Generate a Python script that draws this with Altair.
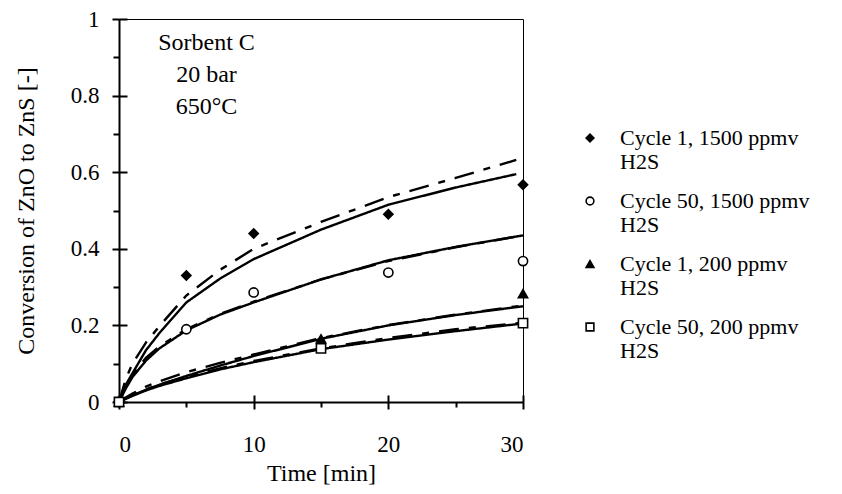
import altair as alt
import pandas as pd

# ---------------- data ----------------
series_labels = [
    "Cycle 1, 1500 ppmv|H2S",
    "Cycle 50, 1500 ppmv|H2S",
    "Cycle 1, 200 ppmv|H2S",
    "Cycle 50, 200 ppmv|H2S",
]
series_shapes = ["diamond", "circle", "triangle-up", "square"]
series_fills = ["black", "white", "black", "white"]

# measured points
s1_t = [0, 5, 10, 20, 30]
s1_x = [0.0, 0.33, 0.44, 0.49, 0.567]
s2_t = [0, 5, 10, 20, 30]
s2_x = [0.0, 0.19, 0.286, 0.338, 0.368]
s3_t = [0, 15, 30]
s3_x = [0.0, 0.165, 0.283]
s4_t = [0, 15, 30]
s4_x = [0.0, 0.14, 0.206]

# model curves (solid and dash-dot)
c1_t = [0, 0.5, 1, 2, 3, 5, 7.5, 10, 15, 20, 25, 29.5]
c1_solid = [0.0, 0.045, 0.075, 0.135, 0.18, 0.26, 0.322, 0.373, 0.45, 0.515, 0.56, 0.595]
c1_dash = [0.0, 0.06, 0.10, 0.155, 0.198, 0.278, 0.345, 0.40, 0.47, 0.535, 0.585, 0.632]

c_t = [0, 0.5, 1, 2, 3, 5, 7.5, 10, 15, 20, 25, 30]
c2_solid = [0.0, 0.035, 0.065, 0.108, 0.14, 0.187, 0.228, 0.26, 0.32, 0.37, 0.405, 0.435]
c2_dash = [0.0, 0.04, 0.072, 0.115, 0.145, 0.19, 0.23, 0.262, 0.32, 0.368, 0.404, 0.435]
c3_solid = [0.0, 0.009, 0.017, 0.032, 0.045, 0.068, 0.095, 0.12, 0.165, 0.20, 0.227, 0.25]
c3_dash = [0.0, 0.012, 0.022, 0.04, 0.054, 0.078, 0.102, 0.124, 0.167, 0.201, 0.228, 0.252]
c4_solid = [0.0, 0.008, 0.016, 0.03, 0.042, 0.062, 0.085, 0.104, 0.138, 0.163, 0.185, 0.205]
c4_dash = [0.0, 0.009, 0.018, 0.033, 0.046, 0.066, 0.088, 0.107, 0.14, 0.167, 0.19, 0.207]

note_lines = "Sorbent C\n20 bar\n650°C"
note_t = [6.5]
note_x = [0.969]

x_ticks = [0, 5, 10, 15, 20, 25, 30]
y_ticks = [0, 0.1, 0.2, 0.3, 0.4, 0.5, 0.6, 0.7, 0.8, 0.9, 1.0]
y_major = [0, 0.2, 0.4, 0.6, 0.8, 1.0]
x_major = [0, 10, 20, 30]

x_title = "Time [min]"
y_title = "Conversion of ZnO to ZnS [-]"

# ---------------- tables ----------------
pts = []
for lab, ts, xs in zip(series_labels, [s1_t, s2_t, s3_t, s4_t], [s1_x, s2_x, s3_x, s4_x]):
    for t, v in zip(ts, xs):
        pts.append({"t": t, "conv": v, "series": lab})
pts = pd.DataFrame(pts)

curves = []
for lab, ts, ys, style in [
    (series_labels[0], c1_t, c1_solid, "solid"),
    (series_labels[0], c1_t, c1_dash, "dash"),
    (series_labels[1], c_t, c2_solid, "solid"),
    (series_labels[1], c_t, c2_dash, "dash"),
    (series_labels[2], c_t, c3_solid, "solid"),
    (series_labels[2], c_t, c3_dash, "dash"),
    (series_labels[3], c_t, c4_solid, "solid"),
    (series_labels[3], c_t, c4_dash, "dash"),
]:
    for t, v in zip(ts, ys):
        curves.append({"t": t, "conv": v, "series": lab, "style": style})
curves = pd.DataFrame(curves)

notes = pd.DataFrame({"t": note_t, "conv": note_x, "text": [note_lines]})

FONT = "Liberation Serif"

xscale = alt.Scale(domain=[0, 30], nice=False, zero=False)
yscale = alt.Scale(domain=[0, 1], nice=False, zero=False)

main_x_axis = alt.Axis(
    values=x_ticks, title=x_title,
    labelExpr="datum.value % 10 == 0 ? datum.label : ''",
    tickSize={"condition": {"test": "datum.value % 10 == 0", "value": 7}, "value": 5},
    labelPadding=24, titlePadding=5, grid=False,
)
main_y_axis = alt.Axis(
    values=y_ticks, title=y_title, format="~g",
    labelExpr="round(datum.value * 10) % 2 == 0 ? datum.label : ''",
    tickSize={"condition": {"test": "round(datum.value * 10) % 2 == 0", "value": 7}, "value": 6},
    labelPadding=13, titlePadding=32, grid=False,
)
inner_x_axis = alt.Axis(values=x_major, orient="bottom", offset=-7, domain=False,
                        labels=False, title=None, tickSize=7, grid=False)
inner_y_axis = alt.Axis(values=y_major, orient="left", offset=-8, domain=False,
                        labels=False, title=None, tickSize=8, grid=False)

legend = alt.Legend(
    title=None, orient="none", legendX=460, legendY=108, padding=0,
    labelExpr="split(datum.label, '|')",
)

lines = alt.Chart(curves).mark_line(color="black", strokeWidth=2.4).encode(
    x=alt.X("t:Q", scale=xscale, axis=main_x_axis),
    y=alt.Y("conv:Q", scale=yscale, axis=main_y_axis),
    detail="series:N",
    strokeDash=alt.StrokeDash(
        "style:N",
        scale=alt.Scale(domain=["solid", "dash"], range=[[1, 0], [20, 10, 7, 10]]),
        legend=None,
    ),
    order="t:Q",
)

points = alt.Chart(pts).mark_point(size=85, stroke="black", strokeWidth=1.6, opacity=1).encode(
    x=alt.X("t:Q", scale=xscale, axis=inner_x_axis),
    y=alt.Y("conv:Q", scale=yscale, axis=inner_y_axis),
    shape=alt.Shape("series:N", scale=alt.Scale(domain=series_labels, range=series_shapes), legend=legend),
    fill=alt.Fill("series:N", scale=alt.Scale(domain=series_labels, range=series_fills), legend=legend),
)

note = alt.Chart(notes).mark_text(
    align="center", baseline="top", font=FONT, fontSize=24, lineHeight=32,
    lineBreak="\n", color="black",
).encode(
    x=alt.X("t:Q", scale=xscale, axis=None),
    y=alt.Y("conv:Q", scale=yscale, axis=None),
    text="text:N",
)

chart = alt.layer(lines, points, note).resolve_axis(
    x="independent", y="independent"
).properties(
    width=404, height=383,
    autosize=alt.AutoSizeParams(type="none"),
    padding={"left": 111, "top": 11, "right": 310, "bottom": 84},
).configure_view(
    stroke="black", strokeWidth=1,
).configure_axis(
    domainColor="black", domainWidth=2, tickColor="black", tickWidth=2,
    labelFont=FONT, labelFontSize=23, labelColor="black",
    titleFont=FONT, titleFontSize=24, titleFontWeight="normal", titleColor="black",
).configure_legend(
    labelFont=FONT, labelFontSize=22, labelColor="black", labelLimit=400,
    labelOffset=19, symbolSize=60,
    symbolStrokeWidth=1.6, rowPadding=17, labelBaseline="middle",
)

chart.save("out.html", embed_options={"renderer": "svg", "actions": False})
